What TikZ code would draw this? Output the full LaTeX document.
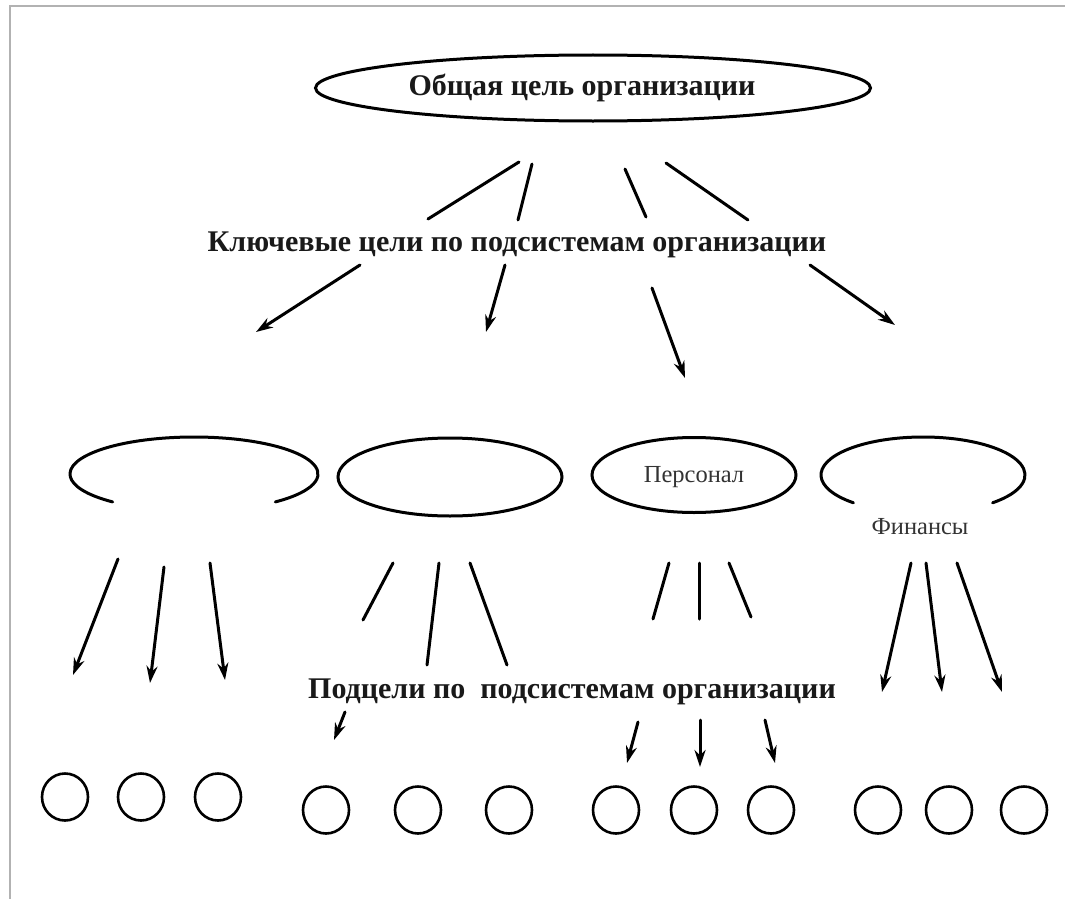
\documentclass[tikz,border=0pt]{standalone}
\usepackage{fontspec}
\setmainfont{Liberation Serif}
\usetikzlibrary{arrows.meta,shapes.geometric}
\begin{document}
\begin{tikzpicture}[x=1pt,y=-1pt,
  ln/.style={line width=3pt,line cap=round},
  arr/.style={ln,-{Stealth[length=17pt,width=11pt]}},
  ov/.style={draw,ellipse,line width=3pt,inner sep=0pt},
  head/.style={font=\bfseries\fontsize{30}{32}\selectfont,text=black!90},
  small/.style={font=\fontsize{24.5}{26}\selectfont,text=black!80}]
\useasboundingbox (0,0) rectangle (1065,899);
\fill[white] (0,0) rectangle (1065,899);
\draw[gray!60,line width=2pt] (10,899) -- (10,6) -- (1065,6);
% top
\node[ov,minimum width=555pt,minimum height=66pt] (top) at (593,88) {};
\node[head] (toptext) at (582,88) {Общая цель организации};
\node[head] (key) at (517,245) {Ключевые цели по подсистемам организации};
% second level
\coordinate (e1) at (194,474);
\draw[ln] (e1) ++(131:124 and 37) arc[start angle=131,end angle=409,x radius=124,y radius=37];
\node[ov,minimum width=224pt,minimum height=78pt] (e2) at (450,477) {};
\node[ov,minimum width=204pt,minimum height=75pt] (e3) at (694,475) {};
\node[small] (pers) at (694,477) {Персонал};
\coordinate (e4) at (923,475);
\draw[ln] (e4) ++(133:102 and 38) arc[start angle=133,end angle=407,x radius=102,y radius=38];
\node[small] (fin) at (920,527) {Финансы};
\node[head] (sub) at (572,692) {Подцели по\ \ подсистемам организации};
% top lines
\foreach \n/\xa/\ya/\xb/\yb in {1/519/162/428/219,2/532/164/518/220,3/625/169/646/217,4/666/163/748/220}{
  \coordinate (ua\n) at (\xa,\ya); \coordinate (ub\n) at (\xb,\yb); \draw[ln] (ua\n) -- (ub\n);}
\foreach \n/\xa/\ya/\xb/\yb in {1/360/265/256/332,2/505/265/486/332,3/652/288/685/378,4/810/265/895/325}{
  \coordinate (ka\n) at (\xa,\ya); \coordinate (kb\n) at (\xb,\yb); \draw[arr] (ka\n) -- (kb\n);}
% third level
\foreach \n/\xa/\ya/\xb/\yb in {1/118/559/73/675,2/164/567/150/683,3/210/563/225/680,
  4/911/563/882/692,5/926/563/942/692,6/957/563/1002/692}{
  \coordinate (ta\n) at (\xa,\ya); \coordinate (tb\n) at (\xb,\yb); \draw[arr] (ta\n) -- (tb\n);}
\foreach \n/\xa/\ya/\xb/\yb in {1/393/563/363/620,2/439/563/427/665,3/470/563/507/665,
  4/669/563/653/619,5/699/563/699/619,6/729/563/751/617}{
  \coordinate (la\n) at (\xa,\ya); \coordinate (lb\n) at (\xb,\yb); \draw[ln] (la\n) -- (lb\n);}
\foreach \n/\xa/\ya/\xb/\yb in {1/345/712/334/740,2/638/722/627/763,3/700/720/700/767,4/765/720/775/763}{
  \coordinate (sa\n) at (\xa,\ya); \coordinate (sb\n) at (\xb,\yb); \draw[arr] (sa\n) -- (sb\n);}
% circles
\foreach \n/\x/\y in {1/65/797,2/141/797,3/218/797,4/326/810,5/418/810,6/509/810,
  7/616/810,8/694/810,9/771/810,10/878/810,11/949/810,12/1024/810}{
  \node[draw,ellipse,line width=2.6pt,minimum width=46pt,minimum height=47pt,inner sep=0pt] (c\n) at (\x,\y) {};}
\end{tikzpicture}
\end{document}
